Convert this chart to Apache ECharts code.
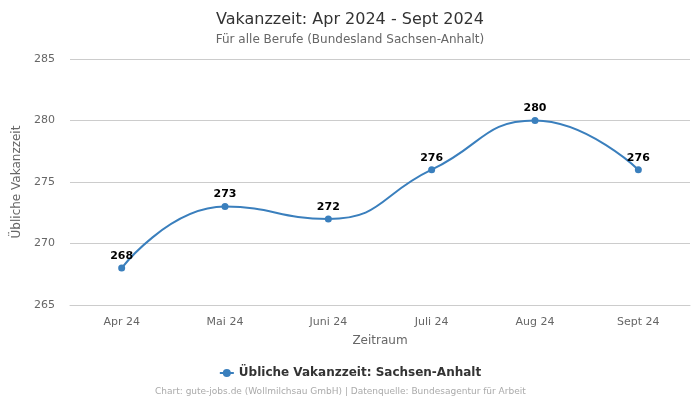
<!DOCTYPE html>
<html><head><meta charset="utf-8">
<script src="https://cdn.jsdelivr.net/npm/echarts@6/dist/echarts.min.js"></script>
<style>html,body{margin:0;padding:0;background:#fff}#c{width:700px;height:400px}</style>
</head><body><div id="c"></div>
<script>
const categories = ['Apr 24','Mai 24','Juni 24','Juli 24','Aug 24','Sept 24'];
const values = [268, 273, 272, 276, 280, 276];
const seriesName = 'Übliche Vakanzzeit: Sachsen-Anhalt';
const F = 'DejaVu Sans';
const chart = echarts.init(document.getElementById('c'));
chart.setOption({
  animation: false,
  textStyle: {fontFamily: F},
  title: {
    text: 'Vakanzzeit: Apr 2024 - Sept 2024',
    subtext: 'Für alle Berufe (Bundesland Sachsen-Anhalt)',
    left: 'center', top: 7, itemGap: 6,
    textStyle: {fontFamily: F, fontSize: 16, fontWeight: 'normal', color: '#333'},
    subtextStyle: {fontFamily: F, fontSize: 12, color: '#666'}
  },
  graphic: [{
    type: 'text', left: 155, top: 387,
    style: {text: 'Chart: gute-jobs.de (Wollmilchsau GmbH) | Datenquelle: Bundesagentur für Arbeit',
      fontFamily: F, fontSize: 9, fill: '#aaa'}
  }],
  legend: {
    bottom: 16, left: 'center',
    itemWidth: 14, itemHeight: 10,
    textStyle: {fontFamily: F, fontSize: 12, fontWeight: 'bold', color: '#333'},
    data: [seriesName]
  },
  grid: {left: 70, right: 10, top: 59, bottom: 95},
  xAxis: {
    type: 'category', data: categories,
    name: 'Zeitraum', nameLocation: 'middle', nameGap: 30,
    nameTextStyle: {fontFamily: F, fontSize: 12, color: '#666'},
    axisLine: {show: true, lineStyle: {color: '#ccc'}},
    axisTick: {show: false},
    axisLabel: {fontFamily: F, fontSize: 11, color: '#666', margin: 12}
  },
  yAxis: {
    type: 'value', min: 265, max: 285, interval: 5,
    name: 'Übliche Vakanzzeit', nameLocation: 'middle', nameGap: 34,
    nameTextStyle: {fontFamily: F, fontSize: 12, color: '#666'},
    axisLine: {show: false}, axisTick: {show: false},
    axisLabel: {fontFamily: F, fontSize: 11, color: '#666', margin: 15},
    splitLine: {lineStyle: {color: '#ccc'}}
  },
  series: [{
    name: seriesName, type: 'line', data: values, smooth: true,
    symbol: 'circle', symbolSize: 7,
    itemStyle: {color: '#3a7fbd'},
    lineStyle: {color: '#3a7fbd', width: 2},
    label: {show: true, position: 'top', distance: 3, fontFamily: F, fontSize: 11, fontWeight: 'bold', color: '#000'}
  }]
});
</script></body></html>
